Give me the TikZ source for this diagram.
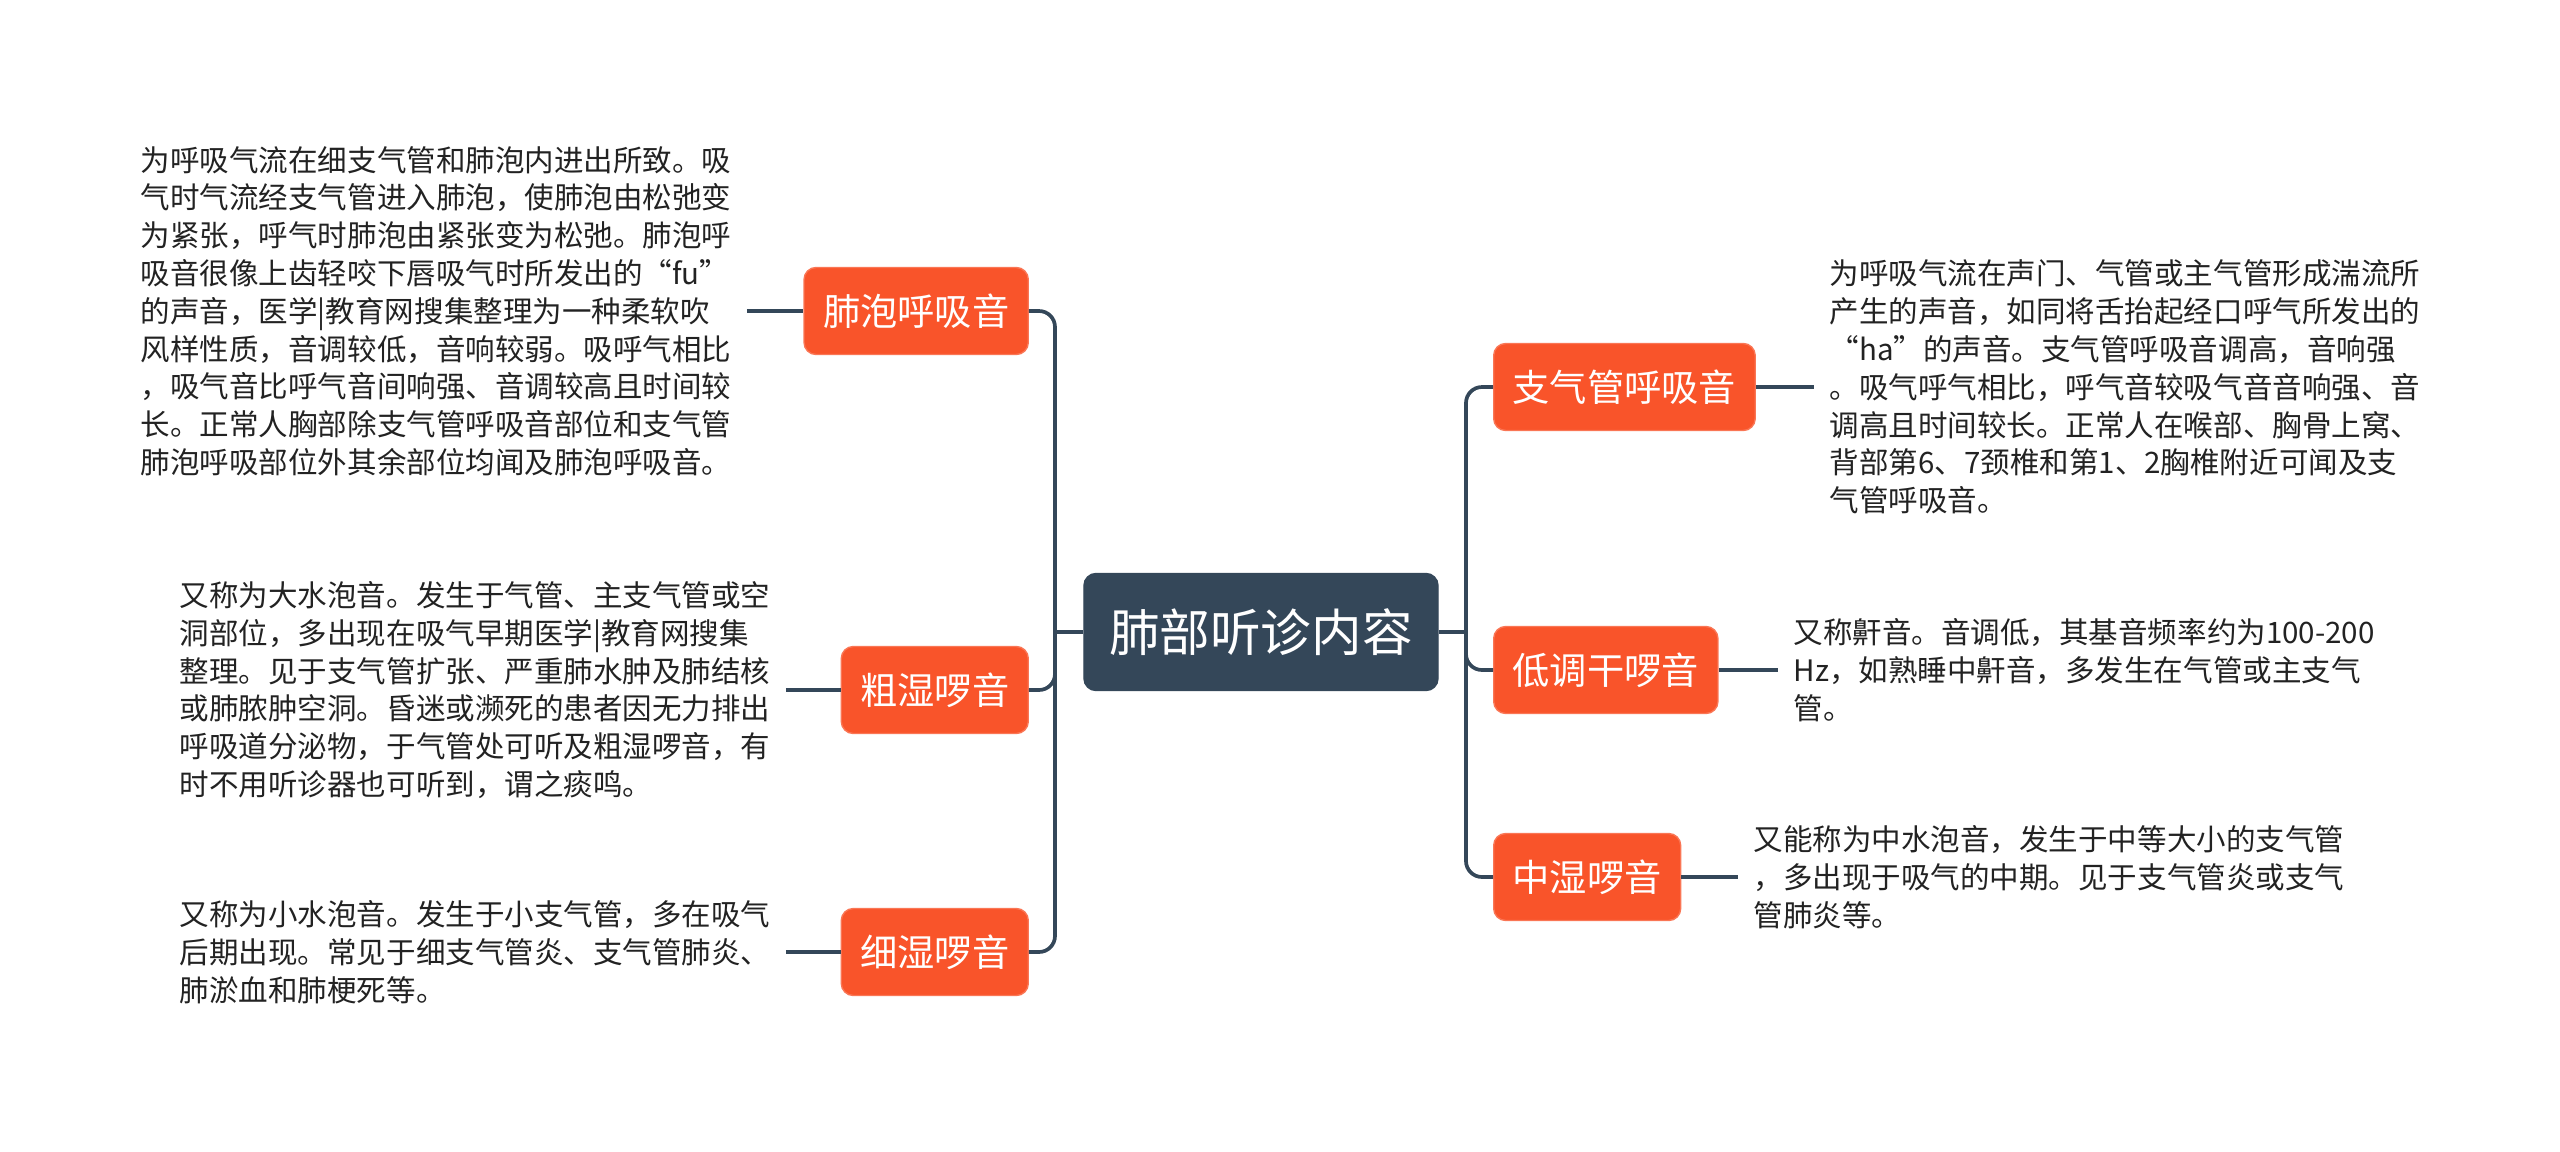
\documentclass[tikz,border=0pt]{standalone}
\usepackage{fontspec}
\newfontfamily\cjkfont{Noto Sans CJK SC}
\definecolor{MapSlate} {RGB}{52,71,89}
\definecolor{MapOrange}{RGB}{249,84,42}
\definecolor{MapText}  {RGB}{34,34,34}

\begin{document}
\begin{tikzpicture}[every node/.style={font=\cjkfont},
    branch/.style={draw=MapOrange!80!white,fill=MapOrange,rounded corners=1.2mm,
      text=white,font=\cjkfont\fontsize{10.6}{12}\selectfont,
      inner xsep=0.19cm,minimum height=0.87cm},
    descr/.style={align=left,text=MapText,font=\cjkfont\fontsize{8.4}{10.75}\selectfont,
      inner xsep=0.15cm,inner ysep=0pt},
    link/.style={draw=MapSlate,line width=1.05pt,rounded corners=1.6mm}]
  \useasboundingbox (-12.61,-5.19) rectangle (12.99,6.32);
  %% Centre topic
  \node[draw=MapSlate,fill=MapSlate,rounded corners=1.2mm,text=white,
        font=\cjkfont\fontsize{14.4}{16}\selectfont,
        minimum width=3.54cm,minimum height=1.17cm] (root) at (0,0) {肺部听诊内容};
  %% Left branches
  \coordinate (lsp) at (-2.06,0);
  \draw[link] (root.west) -- (lsp);
  \foreach \n/\y/\tx/\lab/\txt in {
      alv/3.21/-5.14/肺泡呼吸音/{为呼吸气流在细支气管和肺泡内进出所致。吸\\气时气流经支气管进入肺泡，使肺泡由松弛变\\为紧张，呼气时肺泡由紧张变为松弛。肺泡呼\\吸音很像上齿轻咬下唇吸气时所发出的“fu”\\的声音，医学|教育网搜集整理为一种柔软吹\\风样性质，音调较低，音响较弱。吸呼气相比\\，吸气音比呼气音间响强、音调较高且时间较\\长。正常人胸部除支气管呼吸音部位和支气管\\肺泡呼吸部位外其余部位均闻及肺泡呼吸音。},
      coarse/-0.58/-4.75/粗湿啰音/{又称为大水泡音。发生于气管、主支气管或空\\洞部位，多出现在吸气早期医学|教育网搜集\\整理。见于支气管扩张、严重肺水肿及肺结核\\或肺脓肿空洞。昏迷或濒死的患者因无力排出\\呼吸道分泌物，于气管处可听及粗湿啰音，有\\时不用听诊器也可听到，谓之痰鸣。},
      fine/-3.20/-4.75/细湿啰音/{又称为小水泡音。发生于小支气管，多在吸气\\后期出现。常见于细支气管炎、支气管肺炎、\\肺淤血和肺梗死等。}}{
    \node[branch,anchor=east] (\n) at (-2.32,\y) {\lab};
    \node[descr,anchor=east] (t\n) at (\tx,\y) {\txt};
    \draw[link] (lsp) |- (\n.east);
    \draw[link] (t\n.east) -- (\n.west);
  }
  %% Right branches
  \coordinate (rsp) at (2.05,0);
  \draw[link] (root.east) -- (rsp);
  \foreach \n/\y/\tx/\lab/\txt in {
      bron/2.45/5.53/支气管呼吸音/{为呼吸气流在声门、气管或主气管形成湍流所\\产生的声音，如同将舌抬起经口呼气所发出的\\“ha”的声音。支气管呼吸音调高，音响强\\。吸气呼气相比，呼气音较吸气音音响强、音\\调高且时间较长。正常人在喉部、胸骨上窝、\\背部第6、7颈椎和第1、2胸椎附近可闻及支\\气管呼吸音。},
      low/-0.38/5.17/低调干啰音/{又称鼾音。音调低，其基音频率约为100-200\\Hz，如熟睡中鼾音，多发生在气管或主支气\\管。},
      mid/-2.45/4.77/中湿啰音/{又能称为中水泡音，发生于中等大小的支气管\\，多出现于吸气的中期。见于支气管炎或支气\\管肺炎等。}}{
    \node[branch,anchor=west] (\n) at (2.32,\y) {\lab};
    \node[descr,anchor=west] (t\n) at (\tx,\y) {\txt};
    \draw[link] (rsp) |- (\n.west);
    \draw[link] (\n.east) -- (t\n.west);
  }
\end{tikzpicture}
\end{document}
